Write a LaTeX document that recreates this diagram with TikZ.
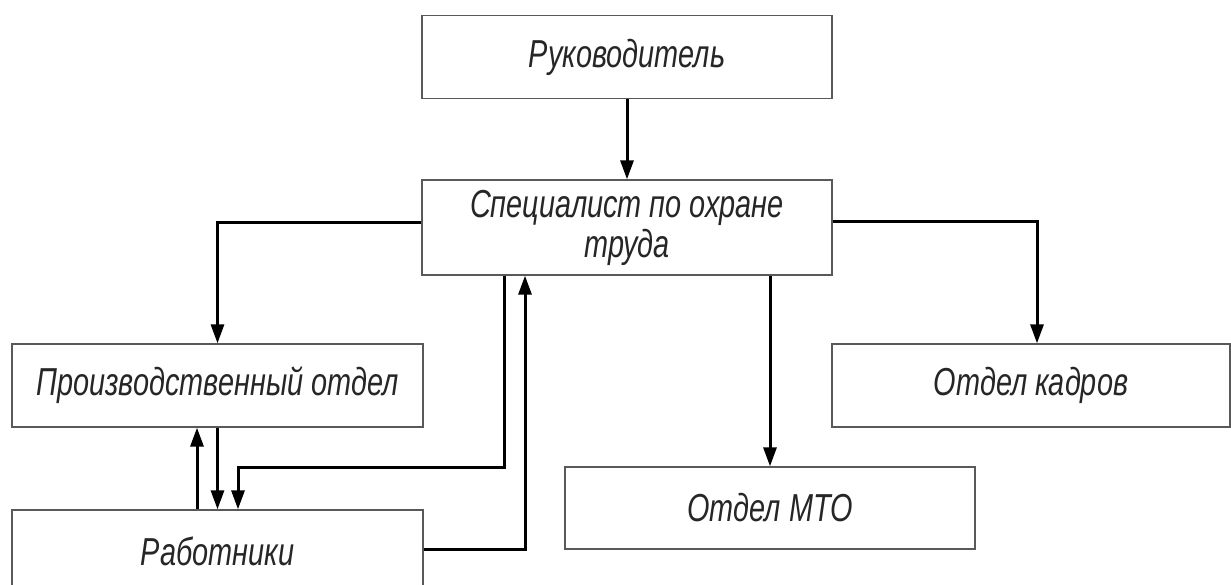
\documentclass[tikz,border=0pt]{standalone}
\usepackage{fontspec}
\setmainfont{Liberation Sans}[FakeStretch=0.74]
\usepackage{tikz}
\usetikzlibrary{arrows.meta, positioning}
\tikzset{>/.tip={Triangle[length=19pt,width=13pt]}}
\tikzset{unit/.style={draw=black!65, line width=1.3pt, fill=white,
  minimum height=83pt, inner sep=0pt, align=center, text=black!85,
  font=\fontsize{39}{40}\selectfont\itshape}}
\tikzset{link/.style={->, line width=3pt, black}}

\begin{document}
\begin{tikzpicture}[x=1pt, y=-1pt]
  \useasboundingbox (0,0) rectangle (1231,585);
  \node(boss) [unit, minimum width=410pt] at (627,57) {Руководитель};
  \node(spec) [unit, minimum width=410pt, minimum height=95pt] at (627,227.5)
    {Специалист по охране\\труда};
  \node(prod) [unit, minimum width=411pt] at (217.5,385.5) {Производственный отдел};
  \node(kadr) [unit, minimum width=398pt] at (1031,385.5) {Отдел кадров};
  \node(mto) [unit, minimum width=410pt, minimum height=82pt] at (770,508) {Отдел МТО};
  \node(rab) [unit, minimum width=411pt] at (217.5,551.5) {Работники};
  \draw[link] (boss) -- (spec);
  \draw[link] ([yshift=5pt]spec.west) -| (prod.north);
  \draw[link] ([yshift=6pt]spec.east) -| ([xshift=6pt]kadr.north);
  \draw[link] (spec.south -| mto.north) -- (mto.north);
  \draw[link] (prod) -- (rab);
  \draw[link] ([xshift=-20.5pt]rab.north) -- ([xshift=-20.5pt]prod.south);
  \draw[link] ([xshift=-123pt]spec.south) -- ++(0,192) -| ([xshift=20.5pt]rab.north);
  \draw[link] ([yshift=2.5pt]rab.east) -| ([xshift=-102pt]spec.south);
\end{tikzpicture}
\end{document}
